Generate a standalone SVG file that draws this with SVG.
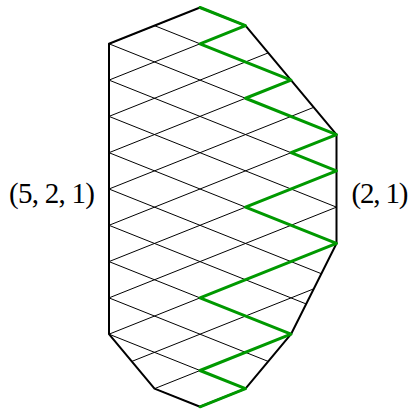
<svg xmlns="http://www.w3.org/2000/svg" width="411" height="410" viewBox="0 0 411 410">
<style>
.lat{stroke:#000;stroke-width:1;fill:none}
.bd{stroke:#000;stroke-width:2;fill:none;stroke-linejoin:round}
.gr{stroke:#009900;stroke-width:3;fill:none;stroke-linejoin:round;stroke-linecap:round}
.lbl{font-family:"Liberation Serif","Times New Roman",serif;font-size:29px;fill:#000}
</style>
<defs>
<clipPath id="clip">
<polygon points="200,7.5 245.5,25.65 291,80.1 336.5,134.55 336.5,243.45 291,334.2 245.5,388.65 200,406.8 154.5,388.65 109,334.2 109,43.8"/>
</clipPath>
</defs>
<g id="lattice" class="lat" clip-path="url(#clip)">
<path d="M109,43.8L336.5,-46.95M109,80.1L336.5,-10.65M109,116.4L336.5,25.65M109,152.7L336.5,61.95M109,189L336.5,98.25M109,225.3L336.5,134.55M109,261.6L336.5,170.85M109,297.9L336.5,207.15M109,334.2L336.5,243.45M109,370.5L336.5,279.75M109,406.8L336.5,316.05M109,443.1L336.5,352.35M109,479.4L336.5,388.65"/>
<path d="M109,-65.1L336.5,25.65M109,-28.8L336.5,61.95M109,7.5L336.5,98.25M109,43.8L336.5,134.55M109,80.1L336.5,170.85M109,116.4L336.5,207.15M109,152.7L336.5,243.45M109,189L336.5,279.75M109,225.3L336.5,316.05M109,261.6L336.5,352.35M109,297.9L336.5,388.65M109,334.2L336.5,424.95M109,370.5L336.5,461.25M109,406.8L336.5,497.55"/>
</g>
<g id="boundary">
<polygon class="bd" points="200,7.5 245.5,25.65 291,80.1 336.5,134.55 336.5,243.45 291,334.2 245.5,388.65 200,406.8 154.5,388.65 109,334.2 109,43.8"/>
</g>
<g id="path">
<polyline class="gr" points="200,7.5 245.5,25.65 200,43.8 291,80.1 245.5,98.25 336.5,134.55 291,152.7 336.5,170.85 245.5,207.15 336.5,243.45 200,297.9 291,334.2 200,370.5 245.5,388.65 200,406.8"/>
</g>
<g id="labels">
<text class="lbl" x="9" y="203" textLength="86" lengthAdjust="spacing">(5, 2, 1)</text>
<text class="lbl" x="351.5" y="203" textLength="57" lengthAdjust="spacing">(2, 1)</text>
</g>
</svg>
